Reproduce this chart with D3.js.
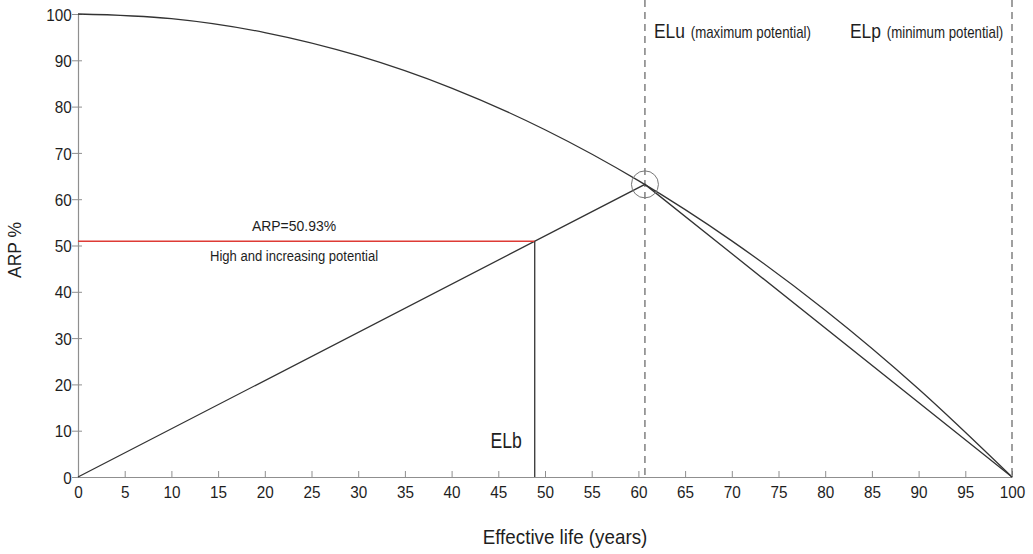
<!DOCTYPE html>
<html>
<head>
<meta charset="utf-8">
<script src="https://cdn.jsdelivr.net/npm/d3@7"></script>
<style>
  html, body { margin: 0; padding: 0; background: #fff; }
  svg { display: block; font-family: "Liberation Sans", Arial, "Roboto", sans-serif; }
</style>
</head>
<body>
<svg id="chart" width="1033" height="554"></svg>
<script>
// Remaining potential curve (ARP %) against effective life (years)
const curveYears = [0, 10, 20, 30, 40, 50, 60, 70, 80, 90, 100];
const curveARP   = [100, 99, 96, 91, 84, 75, 64, 51, 36, 19, 0];

// Key points
const elu = { year: 60.7, arp: 63.2 };   // maximum potential
const elp = { year: 100, arp: 0 };       // minimum potential
const elb = { year: 48.9, arp: 50.93 };  // building effective life

const xTicks = [0, 5, 10, 15, 20, 25, 30, 35, 40, 45, 50, 55, 60, 65, 70, 75, 80, 85, 90, 95, 100];
const yTicks = [0, 10, 20, 30, 40, 50, 60, 70, 80, 90, 100];

const svg = d3.select("#chart");
const x = d3.scaleLinear().domain([0, 100]).range([78, 1012]);
const y = d3.scaleLinear().domain([0, 100]).range([477, 14]);

const ink = "#333";
const textCol = "#1e1e1e";
const axisCol = "#8f8f8f";

// Condensed-looking label: horizontal squeeze applied around the anchor point
function label(px, py, txt, size, sx, anchor = "start", rot = 0) {
  return svg.append("text")
    .attr("transform", `translate(${px},${py}) rotate(${rot}) scale(${sx},1)`)
    .attr("text-anchor", anchor).attr("font-size", size).attr("fill", textCol)
    .text(txt);
}

// Axes
const xAxis = svg.append("g").attr("transform", `translate(0,${y(0)})`)
  .call(d3.axisBottom(x).tickValues(xTicks).tickSize(0).tickPadding(0));
xAxis.select(".domain").attr("stroke", axisCol).attr("stroke-width", 1.2);
xAxis.selectAll(".tick").append("line").attr("y1", -6).attr("y2", 0).attr("stroke", axisCol);
xAxis.selectAll("text").attr("dy", null).attr("y", 21)
  .attr("font-size", 17).attr("fill", textCol).attr("transform", "scale(0.9,1)");

const yAxis = svg.append("g").attr("transform", `translate(${x(0)},0)`)
  .call(d3.axisLeft(y).tickValues(yTicks).tickSize(0).tickPadding(0));
yAxis.select(".domain").attr("stroke", axisCol).attr("stroke-width", 1.2);
yAxis.selectAll(".tick").append("line").attr("x1", -6).attr("x2", 4).attr("stroke", axisCol);
yAxis.selectAll("text").attr("x", -7).attr("dy", "0.36em")
  .attr("font-size", 17).attr("fill", textCol).attr("transform", "scale(0.9,1)");

// Axis titles
label(565, 544, "Effective life (years)", 20, 0.94, "middle");
label(21, 250, "ARP %", 19, 0.92, "middle", -90);

// Vertical dashed markers at ELu and ELp
[elu.year, elp.year].forEach(v => {
  svg.append("line").attr("x1", x(v)).attr("x2", x(v)).attr("y1", 0).attr("y2", y(0))
    .attr("stroke", "#606060").attr("stroke-width", 1.2).attr("stroke-dasharray", "7,5");
});

// Potential curve
const pts = curveYears.map((d, i) => [d, curveARP[i]]);
svg.append("path").datum(pts)
  .attr("fill", "none").attr("stroke", ink).attr("stroke-width", 1.3)
  .attr("d", d3.line().x(d => x(d[0])).y(d => y(d[1])).curve(d3.curveMonotoneX));

// Linear approximation: origin -> ELu -> ELp
const poly = [[0, 0], [elu.year, elu.arp], [elp.year, elp.arp]];
svg.append("path").datum(poly)
  .attr("fill", "none").attr("stroke", ink).attr("stroke-width", 1.3)
  .attr("d", d3.line().x(d => x(d[0])).y(d => y(d[1])));

// Circle at ELu
svg.append("circle").attr("cx", x(elu.year)).attr("cy", y(elu.arp)).attr("r", 13.5)
  .attr("fill", "none").attr("stroke", "#777").attr("stroke-width", 1);

// ARP level (red) and ELb drop line
svg.append("line").attr("x1", x(0)).attr("x2", x(elb.year)).attr("y1", y(elb.arp)).attr("y2", y(elb.arp))
  .attr("stroke", "#de3b35").attr("stroke-width", 1.6);
svg.append("line").attr("x1", x(elb.year)).attr("x2", x(elb.year)).attr("y1", y(elb.arp)).attr("y2", y(0))
  .attr("stroke", ink).attr("stroke-width", 1.3);

// Annotations
label(294, y(elb.arp) - 10, `ARP=${elb.arp.toFixed(2)}%`, 15, 0.93, "middle");
label(210, y(elb.arp) + 20, "High and increasing potential", 15, 0.87);
label(x(elb.year) - 13, 448, "ELb", 22, 0.8, "end");

function markerTitle(px, code, note) {
  const t = svg.append("text")
    .attr("transform", `translate(${px},38) scale(0.83,1)`).attr("fill", textCol);
  t.append("tspan").attr("font-size", 21).text(code);
  t.append("tspan").attr("font-size", 16).attr("dx", 7).text(note);
}
markerTitle(x(elu.year) + 9, "ELu", "(maximum potential)");
markerTitle(850, "ELp", "(minimum potential)");
</script>
</body>
</html>
